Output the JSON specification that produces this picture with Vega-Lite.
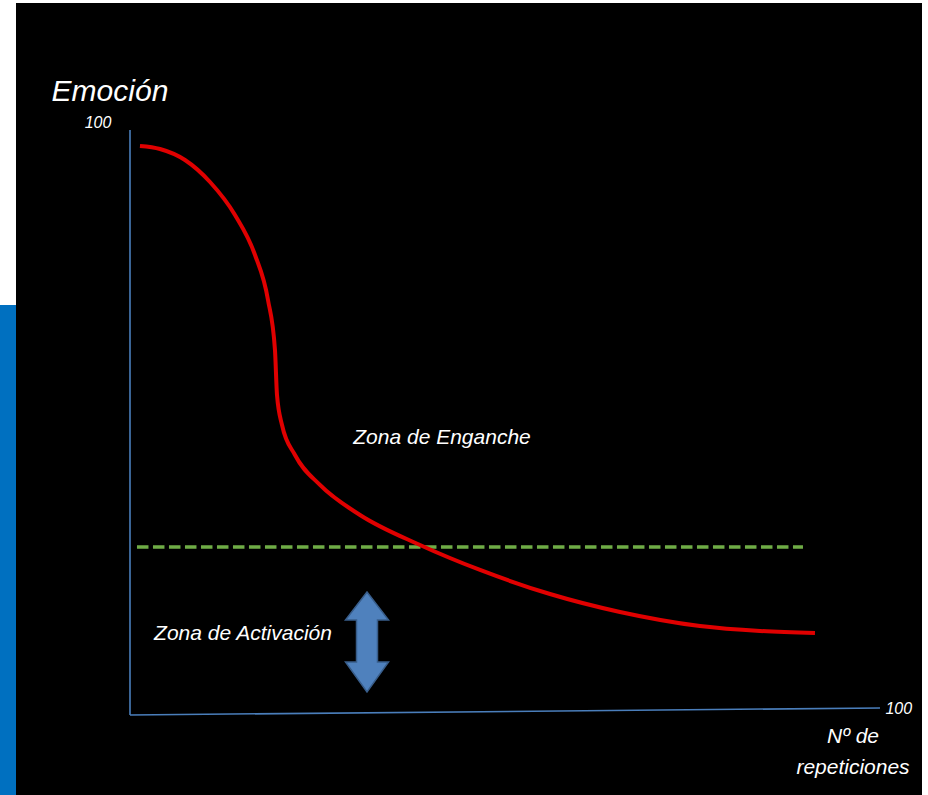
{
  "$schema": "https://vega.github.io/schema/vega-lite/v6.json",
  "width": 928,
  "height": 795,
  "autosize": {"type": "fit", "contains": "padding"},
  "padding": 0,
  "background": "white",
  "config": {"view": {"stroke": null}},
  "datasets": {
    "panels": [
      {"name": "black", "x0": -15.2, "x1": 105.6, "y0": -13.675, "y1": 121.71},
      {"name": "blue", "x0": -17.333, "x1": -15.2, "y0": -13.675, "y1": 70.09}
    ],
    "curve": [
      {"x": 1.33, "y": 97.26}, {"x": 4.0, "y": 96.75}, {"x": 7.33, "y": 94.87},
      {"x": 10.67, "y": 91.11}, {"x": 14.0, "y": 85.47}, {"x": 16.67, "y": 78.63},
      {"x": 18.4, "y": 70.94}, {"x": 19.33, "y": 62.39}, {"x": 19.6, "y": 54.7},
      {"x": 20.27, "y": 49.57}, {"x": 22.0, "y": 44.44}, {"x": 25.33, "y": 39.32},
      {"x": 30.67, "y": 34.19}, {"x": 38.67, "y": 29.06}, {"x": 46.67, "y": 24.79},
      {"x": 56.0, "y": 20.68}, {"x": 65.33, "y": 17.61}, {"x": 76.0, "y": 15.21},
      {"x": 84.0, "y": 14.36}, {"x": 91.33, "y": 14.02}
    ],
    "axes": [
      {"x": 0, "y": 0, "x2": 0, "y2": 100},
      {"x": 0, "y": 0, "x2": 100, "y2": 1.2}
    ],
    "threshold": [{"x": 0.93, "x2": 89.73, "y": 28.72}],
    "arrow": [{"x": 31.6, "y": 12.48}],
    "title": [{"x": -2.67, "y": 106.5, "label": "Emoción"}],
    "ticks": [
      {"x": -4.27, "y": 101.2, "label": "100"},
      {"x": 102.5, "y": 1.03, "label": "100"}
    ],
    "labels": [
      {"x": 41.6, "y": 47.35, "label": "Zona de Enganche"},
      {"x": 15.07, "y": 13.85, "label": "Zona de Activación"},
      {"x": 96.4, "y": -3.76, "label": "Nº de"},
      {"x": 96.4, "y": -9.06, "label": "repeticiones"}
    ]
  },
  "layer": [
    {
      "data": {"name": "panels"},
      "mark": {"type": "rect"},
      "encoding": {
        "x": {"field": "x0", "type": "quantitative", "scale": {"domain": [-17.333, 106.4], "nice": false, "zero": false}, "axis": null},
        "x2": {"field": "x1"},
        "y": {"field": "y0", "type": "quantitative", "scale": {"domain": [-13.675, 122.22], "nice": false, "zero": false}, "axis": null},
        "y2": {"field": "y1"},
        "color": {"field": "name", "type": "nominal", "scale": {"domain": ["black", "blue"], "range": ["#000000", "#0070c0"]}, "legend": null}
      }
    },
    {
      "data": {"name": "axes"},
      "mark": {"type": "rule", "color": "#4a7ebb", "strokeWidth": 1.6},
      "encoding": {
        "x": {"field": "x", "type": "quantitative"},
        "y": {"field": "y", "type": "quantitative"},
        "x2": {"field": "x2"},
        "y2": {"field": "y2"}
      }
    },
    {
      "data": {"name": "threshold"},
      "mark": {"type": "rule", "color": "#6fac46", "strokeWidth": 3.5, "strokeDash": [11.5, 4.5]},
      "encoding": {
        "x": {"field": "x", "type": "quantitative"},
        "x2": {"field": "x2"},
        "y": {"field": "y", "type": "quantitative"}
      }
    },
    {
      "data": {"name": "curve"},
      "mark": {"type": "line", "color": "#e00000", "strokeWidth": 4, "interpolate": "monotone"},
      "encoding": {
        "x": {"field": "x", "type": "quantitative"},
        "y": {"field": "y", "type": "quantitative"}
      }
    },
    {
      "data": {"name": "arrow"},
      "mark": {
        "type": "point",
        "filled": true,
        "shape": "M0,-1 L0.43,-0.44 L0.21,-0.44 L0.21,0.4 L0.43,0.4 L0,1 L-0.43,0.4 L-0.21,0.4 L-0.21,-0.44 L-0.43,-0.44 Z",
        "size": 10000,
        "fill": "#4f81bd",
        "stroke": "#385d8a",
        "strokeWidth": 1.5,
        "opacity": 1
      },
      "encoding": {
        "x": {"field": "x", "type": "quantitative"},
        "y": {"field": "y", "type": "quantitative"}
      }
    },
    {
      "data": {"name": "title"},
      "mark": {"type": "text", "font": "Liberation Sans, Arial", "fontStyle": "italic", "fontSize": 30, "color": "white", "align": "center", "baseline": "middle"},
      "encoding": {
        "x": {"field": "x", "type": "quantitative"},
        "y": {"field": "y", "type": "quantitative"},
        "text": {"field": "label"}
      }
    },
    {
      "data": {"name": "ticks"},
      "mark": {"type": "text", "font": "Liberation Sans, Arial", "fontStyle": "italic", "fontSize": 16, "color": "white", "align": "center", "baseline": "middle"},
      "encoding": {
        "x": {"field": "x", "type": "quantitative"},
        "y": {"field": "y", "type": "quantitative"},
        "text": {"field": "label"}
      }
    },
    {
      "data": {"name": "labels"},
      "mark": {"type": "text", "font": "Liberation Sans, Arial", "fontStyle": "italic", "fontSize": 21, "color": "white", "align": "center", "baseline": "middle"},
      "encoding": {
        "x": {"field": "x", "type": "quantitative"},
        "y": {"field": "y", "type": "quantitative"},
        "text": {"field": "label"}
      }
    }
  ]
}
